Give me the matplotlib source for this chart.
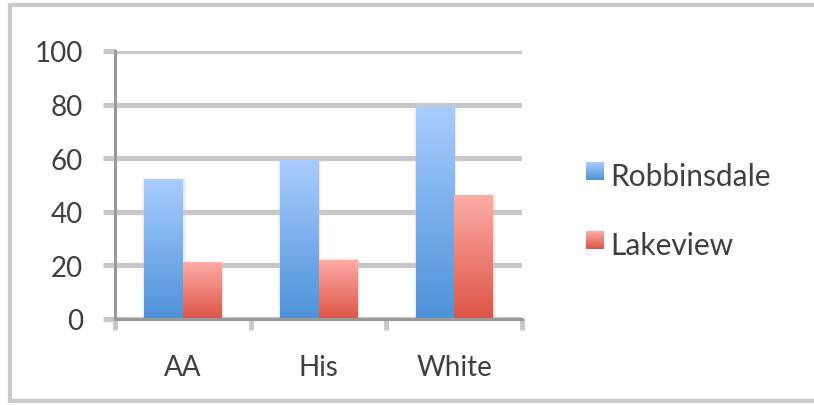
import numpy as np
import matplotlib.pyplot as plt
from matplotlib.lines import Line2D
from matplotlib.ticker import FixedLocator

categories = ['AA', 'His', 'White']
series = ['Robbinsdale', 'Lakeview']
robbinsdale = [52, 59, 79]
lakeview = [21, 22, 46]
yticks = [0, 20, 40, 60, 80, 100]

# gradient end colours (top, bottom) for each series
grad = {
    'Robbinsdale': ('#a9ccff', '#4e92d8'),
    'Lakeview': ('#fdaba6', '#dc5546'),
}

plt.rcParams['font.family'] = ['Lato', 'DejaVu Sans']
text_color = '#404040'


def gradient_img(top, bottom, n=64):
    c0 = np.array(plt.matplotlib.colors.to_rgb(top))
    c1 = np.array(plt.matplotlib.colors.to_rgb(bottom))
    t = np.linspace(0, 1, n)[:, None]
    return (c0 * (1 - t) + c1 * t)[:, None, :]


fig = plt.figure(figsize=(8.14, 4.06), dpi=100)
ax = fig.add_axes([115 / 814, 1 - 320 / 406, 407 / 814, 268 / 406])

x = np.arange(len(categories))
width = 0.285
values = {'Robbinsdale': robbinsdale, 'Lakeview': lakeview}
for k, name in enumerate(series):
    offs = (k - 0.5) * width
    bars = ax.bar(x + offs, values[name], width, color='none', zorder=3)
    img = gradient_img(*grad[name])
    for r in bars:
        x0, y0 = r.get_x(), r.get_y()
        ax.imshow(img, extent=[x0, x0 + r.get_width(), y0, y0 + r.get_height()],
                  aspect='auto', zorder=3, interpolation='bilinear')
        # faint halo around each bar
        ax.add_patch(plt.Rectangle((x0, y0), r.get_width(), r.get_height(),
                                   fill=False, ec=grad[name][0], lw=2.5,
                                   alpha=0.35, zorder=2.9))

ax.set_xlim(-0.5, len(categories) - 0.5)
ax.set_ylim(0, 100)

ax.yaxis.set_major_locator(FixedLocator(yticks))
ax.grid(axis='y', color='#c8c8c8', lw=3.8, zorder=1)
ax.tick_params(axis='y', length=9, width=3.8, color='#c8c8c8',
               labelsize=20, labelcolor=text_color, pad=14)

ax.set_xticks(x)
ax.set_xticklabels(categories)
ax.xaxis.set_minor_locator(FixedLocator(np.arange(len(categories) + 1) - 0.5))
ax.tick_params(axis='x', which='major', length=0, labelsize=20,
               labelcolor=text_color, pad=25)
ax.tick_params(axis='x', which='minor', length=8, width=3.5, color='#c8c8c8')

for s in ['top', 'right']:
    ax.spines[s].set_visible(False)
for s in ['left', 'bottom']:
    ax.spines[s].set_color('#9a9a9a')
    ax.spines[s].set_linewidth(2.2)
    ax.spines[s].set_zorder(4)

# legend: gradient swatches with labels
legend_y = [172, 241]
for name, yy in zip(series, legend_y):
    sw = fig.add_axes([586 / 814, 1 - (yy + 9) / 406, 18 / 814, 18 / 406])
    sw.imshow(gradient_img(*grad[name]), aspect='auto', interpolation='bilinear')
    sw.set_axis_off()
    fig.text(610 / 814, 1 - (yy + 5) / 406, name, fontsize=21.5,
             color=text_color, va='center', ha='left')

# chart frame (top, left, bottom)
fc = '#cbcbcb'
fig.add_artist(Line2D([10 / 814, 1.0], [1 - 6 / 406] * 2, color=fc, lw=3))
fig.add_artist(Line2D([10 / 814] * 2, [1 - 6 / 406, 1 - 402 / 406], color=fc, lw=3))
fig.add_artist(Line2D([10 / 814, 1.0], [1 - 402 / 406] * 2, color=fc, lw=3))

fig.savefig('out.png', dpi=100, facecolor='white')
